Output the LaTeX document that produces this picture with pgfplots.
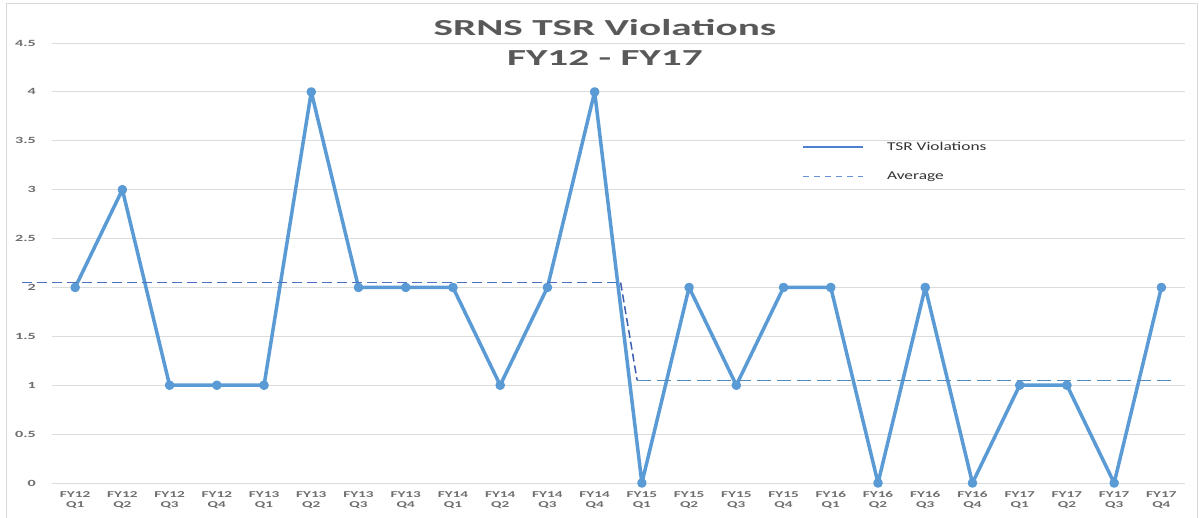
\documentclass[border=0pt]{standalone}
\usepackage{fontspec}
\usepackage{pgfplots}
\pgfplotsset{compat=1.18}
\setmainfont{Carlito}
\newfontfamily\titlefont[FakeStretch=1.8]{Carlito}
\newfontfamily\tickfont[FakeStretch=1.7]{Carlito}
\newfontfamily\legfont[FakeStretch=1.45]{Carlito}
\definecolor{lineblue}{HTML}{5B9BD5}
\definecolor{avgblue}{HTML}{4A72C0}
\definecolor{avgdark}{HTML}{3F5FB0}
\definecolor{legblue}{HTML}{4F7FCF}
\definecolor{titlegray}{HTML}{595959}
\definecolor{tickgray}{HTML}{6E6E6E}
\definecolor{gridgray}{HTML}{DCDCDC}
\begin{document}
\begin{tikzpicture}
\useasboundingbox (-52bp,-35bp) rectangle (1147bp,483bp);
\fill[white] (-52bp,-35bp) rectangle (1147bp,483bp);
\draw[gray!30, line width=1bp] (-45bp,-36bp) -- (-45bp,479bp) -- (1145bp,479bp) -- (1145bp,-36bp);
\begin{axis}[
  scale only axis,
  width=1133bp, height=440bp,
  at={(0,0)}, anchor=south west,
  xmin=-0.49, xmax=23.5,
  ymin=0, ymax=4.5,
  clip=false,
  axis line style={draw=none},
  major tick length=0pt,
  ymajorgrids,
  grid style={draw=gridgray, line width=1bp},
  ytick={0,0.5,1,1.5,2,2.5,3,3.5,4,4.5},
  yticklabels={0,0.5,1,1.5,2,2.5,3,3.5,4,4.5},
  yticklabel style={anchor=east, inner sep=0pt, xshift=-16bp, text=tickgray, font=\tickfont\bfseries\fontsize{9.5}{10}\selectfont},
  xtick={0,...,23},
  xticklabels={FY12\\Q1,FY12\\Q2,FY12\\Q3,FY12\\Q4,FY13\\Q1,FY13\\Q2,FY13\\Q3,FY13\\Q4,FY14\\Q1,FY14\\Q2,FY14\\Q3,FY14\\Q4,FY15\\Q1,FY15\\Q2,FY15\\Q3,FY15\\Q4,FY16\\Q1,FY16\\Q2,FY16\\Q3,FY16\\Q4,FY17\\Q1,FY17\\Q2,FY17\\Q3,FY17\\Q4},
  xticklabel style={anchor=north, inner sep=0pt, yshift=-8bp, align=center, text=tickgray, font=\tickfont\bfseries\fontsize{9}{10.5}\selectfont},
  title={SRNS TSR Violations\\FY12 - FY17},
  title style={at={(0.488,1)}, anchor=north, yshift=18bp, inner sep=0pt, align=center, text=titlegray, font=\titlefont\bfseries\fontsize{23}{30}\selectfont},
  legend style={draw=none, fill=none, at={(0.662,0.775)}, anchor=north west, inner sep=0pt,
    font=\legfont\fontsize{12}{14}\selectfont, text=black!80, row sep=20bp,
    nodes={inner sep=0pt},
    /tikz/every odd column/.append style={column sep=23bp}},
  legend cell align=left,
]
\addplot[color=lineblue, line width=3.5bp, line join=round, mark=*, mark size=3bp, mark options={fill=lineblue, solid}, forget plot]
coordinates {
(0,2) (1,3) (2,1) (3,1) (4,1) (5,4) (6,2) (7,2) (8,2) (9,1) (10,2) (11,4)
(12,0) (13,2) (14,1) (15,2) (16,2) (17,0) (18,2) (19,0) (20,1) (21,1) (22,0) (23,2)
};
\addplot[color=avgblue, line width=1.3bp, dash pattern=on 10bp off 5bp, forget plot]
coordinates {(-1.12,2.05) (11.55,2.05)};
\addplot[color=avgdark, line width=1.5bp, dash pattern=on 8bp off 4bp, forget plot]
coordinates {(11.55,2.05) (11.9,1.05)};
\addplot[color=lineblue!90!black, line width=1.3bp, dash pattern=on 14bp off 6bp, forget plot]
coordinates {(11.9,1.05) (23.3,1.05)};
\addlegendimage{legend image code/.code={\draw[draw=legblue, line width=1.8bp] (0bp,0bp) -- (60bp,0bp);}}
\addlegendentry{TSR Violations}
\addlegendimage{legend image code/.code={\draw[draw=legblue!85, line width=1.5bp, dash pattern=on 6bp off 5bp] (0bp,0bp) -- (60bp,0bp);}}
\addlegendentry{Average}
\end{axis}
\end{tikzpicture}
\end{document}
